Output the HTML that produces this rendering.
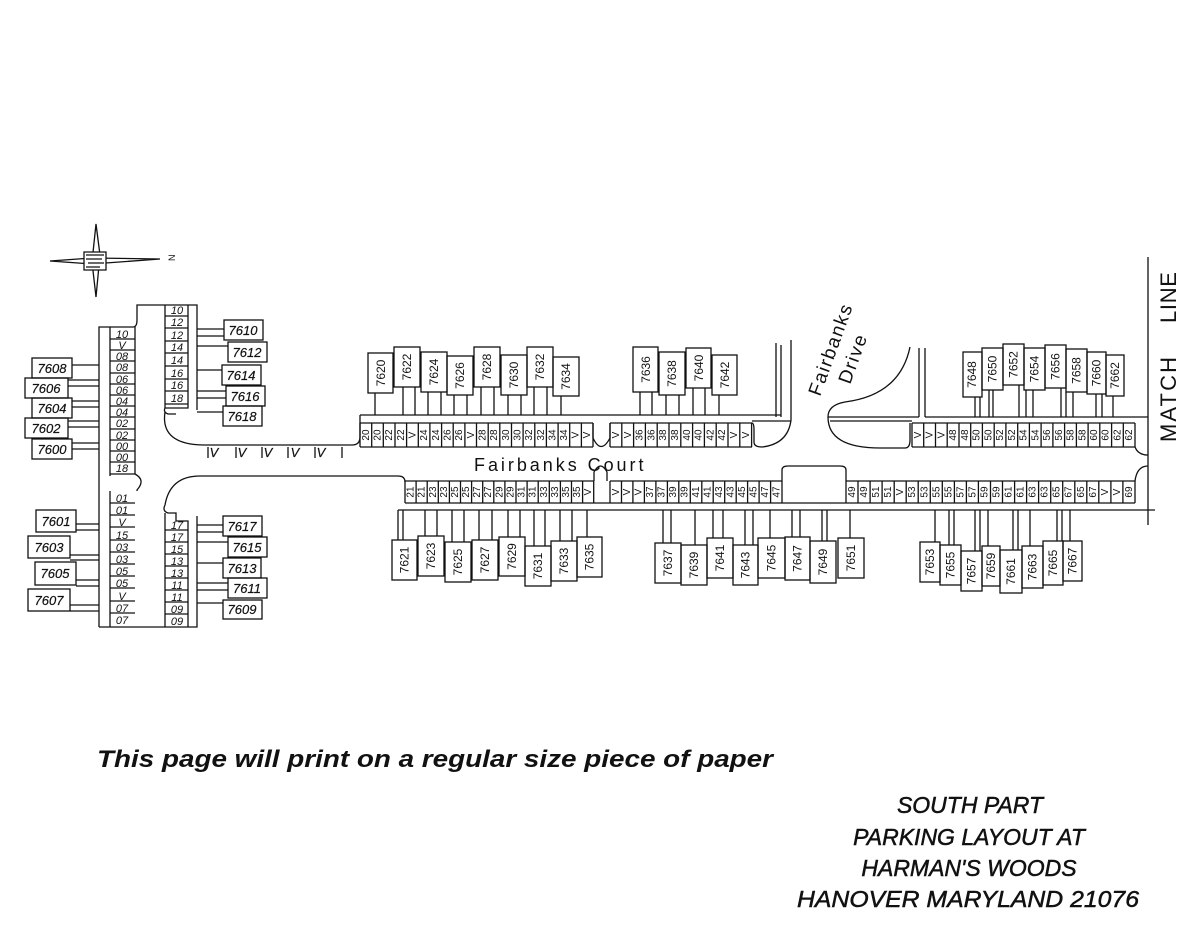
<!DOCTYPE html>
<html><head><meta charset="utf-8"><style>
html,body{margin:0;padding:0;background:#fff;}
svg{display:block;}
text{font-family:"Liberation Sans",sans-serif;fill:#111;}
.s{font-size:10px;text-anchor:middle;}
.b{font-size:12px;text-anchor:middle;}
.l{font-size:11px;font-style:italic;text-anchor:middle;}
.h{font-size:13px;font-style:italic;text-anchor:middle;stroke:#111;stroke-width:0.2;}
</style></head><body>
<svg width="1200" height="927" viewBox="0 0 1200 927" xmlns="http://www.w3.org/2000/svg">
<g fill="none" stroke="#111" stroke-width="1.3">
<!-- compass -->
<path d="M50 261 L92 258 L160 259 L92 264 Z M96 224 L100 255 L96 297 L92 262 Z" fill="#fff"/>
<path d="M84 252 H106 V270 H84 Z" fill="#fff"/>
<path d="M86 255 H104 M86 259 H102 M88 263 H104 M86 267 H100"/>
<!-- left column structure -->
<path d="M99 627 V327 H133 Q137 327 137 320 V305 H197 V410"/>
<path d="M188 305 V408 H165 Q163 412 168 414 H176 M165 412 Q160 445 205 445 H352 Q360 445 360 437 V423"/>
<path d="M110 327 V476 M135 327 V474 Q146 480 137 490 V491 M110 491 V627 M99 627 H197 V516 M188 627 V521 H176 V513 H168 Q162 511 165 505 Q170 476 200 476 H398 Q405 476 405 482"/>
<path d="M165 305 V408 M165 513 V627"/>
<!-- left rows -->
<path d="M110 339 H135 M110 350 H135 M110 361 H135 M110 373 H135 M110 384 H135 M110 395 H135 M110 406 H135 M110 417 H135 M110 429 H135 M110 440 H135 M110 451 H135 M110 462 H135 M110 474 H135"/>
<path d="M110 503 H135 M110 515 H135 M110 527 H135 M110 540 H135 M110 552 H135 M110 564 H135 M110 576 H135 M110 588 H135 M110 601 H135 M110 613 H135"/>
<path d="M165 316 H188 M165 328 H188 M165 341 H188 M165 353 H188 M165 366 H188 M165 379 H188 M165 391 H188 M165 404 H188"/>
<path d="M165 530 H188 M165 542 H188 M165 554 H188 M165 566 H188 M165 578 H188 M165 590 H188 M165 602 H188 M165 614 H188"/>
<!-- left boxes -->
<rect x="32" y="358" width="40" height="20"/><rect x="25" y="378" width="43" height="20"/><rect x="32" y="398" width="40" height="20"/><rect x="25" y="418" width="43" height="20"/><rect x="32" y="439" width="40" height="20"/>
<path d="M72 365 H99 M68 380 H99 M68 386 H99 M72 401 H99 M72 407 H99 M68 421 H99 M68 427 H99 M72 443 H99 M72 449 H99"/>
<rect x="224" y="320" width="39" height="20"/><rect x="228" y="342" width="39" height="20"/><rect x="222" y="365" width="39" height="20"/><rect x="226" y="386" width="39" height="20"/><rect x="223" y="406" width="39" height="20"/>
<path d="M197 329 H224 M197 336 H224 M197 346 H228 M197 370 H222 M197 391 H226 M197 398 H226 M197 412 H223"/>
<rect x="36" y="510" width="40" height="22"/><rect x="28" y="536" width="42" height="22"/><rect x="35" y="562" width="41" height="23"/><rect x="28" y="589" width="42" height="22"/>
<path d="M76 524 H99 M76 530 H99 M70 555 H99 M70 560 H99 M76 580 H99 M76 586 H99 M70 605 H99 M70 611 H99"/>
<rect x="223" y="516" width="39" height="20"/><rect x="228" y="537" width="39" height="20"/><rect x="223" y="558" width="38" height="20"/><rect x="228" y="578" width="39" height="20"/><rect x="223" y="600" width="39" height="19"/>
<path d="M197 525 H223 M197 532 H223 M197 542 H228 M197 563 H223 M197 583 H228 M197 590 H228 M197 603 H223"/>
<!-- V ticks -->
<path d="M208 447 V458 M236 447 V458 M262 447 V458 M288 447 V458 M315 447 V458 M342 447 V458"/>
<!-- upper strips -->
<path d="M360 423 H593 M360 447 H593 M593 423 V438 Q601 455 610 438 V423 M610 423 H752 M610 447 H752"/>
<path d="M360 423 V447 M371.7 423 V447 M383.3 423 V447 M395 423 V447 M406.6 423 V447 M418.3 423 V447 M429.9 423 V447 M441.6 423 V447 M453.2 423 V447 M464.9 423 V447 M476.5 423 V447 M488.2 423 V447 M499.8 423 V447 M511.5 423 V447 M523.1 423 V447 M534.8 423 V447 M546.4 423 V447 M558.1 423 V447 M569.7 423 V447 M581.4 423 V447 M593 423 V447"/>
<path d="M610 423 V447 M621.8 423 V447 M633.6 423 V447 M645.4 423 V447 M657.2 423 V447 M669 423 V447 M680.8 423 V447 M692.6 423 V447 M704.4 423 V447 M716.2 423 V447 M728 423 V447 M739.8 423 V447 M751.6 423 V447"/>
<path d="M752 423 Q754 423 754 430 V442 Q754 447 762 447 Q788 444 791 420 V340 M781 417 V345 M776 417 V343 M360 415 V423 M360 415 H781 M752 421 H791"/>
<!-- drive right -->
<path d="M910 347 Q900 395 845 402 Q828 405 828 417 Q828 448 880 448 H905 Q910 448 910 440 V423 M828 417 H919 M830 421 H912 M919 348 V417 M925 348 V417 M925 417 H1148"/>
<path d="M912 423 H1135 M912 447 H1135 M912 423 V447 M923.7 423 V447 M935.5 423 V447 M947.2 423 V447 M959 423 V447 M970.7 423 V447 M982.4 423 V447 M994.2 423 V447 M1005.9 423 V447 M1017.7 423 V447 M1029.4 423 V447 M1041.1 423 V447 M1052.9 423 V447 M1064.6 423 V447 M1076.4 423 V447 M1088.1 423 V447 M1099.8 423 V447 M1111.6 423 V447 M1123.3 423 V447 M1135 423 V447 M1135 447 Q1138 455 1148 455"/>
<path d="M1148 257 V525"/>
<!-- lower strips -->
<path d="M405 481 H594 M405 503 H1135 M594 481 V472 Q600.5 460 607 472 V481 M610 481 H782 M782 481 V470 Q782 466 788 466 H840 Q846 466 846 470 V481 M846 481 H1135 Q1137 466 1148 466"/>
<path d="M405 481 V503 M416.1 481 V503 M427.2 481 V503 M438.3 481 V503 M449.4 481 V503 M460.5 481 V503 M471.6 481 V503 M482.7 481 V503 M493.8 481 V503 M504.9 481 V503 M516 481 V503 M527.1 481 V503 M538.2 481 V503 M549.3 481 V503 M560.4 481 V503 M571.5 481 V503 M582.6 481 V503 M593.7 481 V503"/>
<path d="M610 481 V503 M621.5 481 V503 M632.9 481 V503 M644.4 481 V503 M655.9 481 V503 M667.4 481 V503 M678.8 481 V503 M690.3 481 V503 M701.8 481 V503 M713.2 481 V503 M724.7 481 V503 M736.2 481 V503 M747.6 481 V503 M759.1 481 V503 M770.6 481 V503 M782 481 V503"/>
<path d="M846 481 V503 M858 481 V503 M870.1 481 V503 M882.1 481 V503 M894.2 481 V503 M906.2 481 V503 M918.2 481 V503 M930.3 481 V503 M942.3 481 V503 M954.4 481 V503 M966.4 481 V503 M978.4 481 V503 M990.5 481 V503 M1002.5 481 V503 M1014.6 481 V503 M1026.6 481 V503 M1038.6 481 V503 M1050.7 481 V503 M1062.7 481 V503 M1074.8 481 V503 M1086.8 481 V503 M1098.8 481 V503 M1110.9 481 V503 M1122.9 481 V503 M1135 481 V503"/>
<path d="M398 510 H1155 M398 510 V540"/>
<!-- upper boxes -->
<rect x="368" y="353" width="25" height="40"/><rect x="394" y="347" width="26" height="40"/><rect x="421" y="352" width="26" height="40"/><rect x="447" y="356" width="26" height="39"/><rect x="474" y="347" width="26" height="40"/><rect x="501" y="355" width="26" height="40"/><rect x="527" y="347" width="26" height="40"/><rect x="553" y="357" width="26" height="39"/>
<path d="M375 393 V415 M403 387 V415 M415 387 V415 M428 392 V415 M441 392 V415 M454 395 V415 M467 395 V415 M481 387 V415 M494 387 V415 M508 395 V415 M521 395 V415 M534 387 V415 M547 387 V415 M561 396 V415"/>
<rect x="633" y="347" width="25" height="45"/><rect x="659" y="352" width="26" height="43"/><rect x="686" y="348" width="25" height="40"/><rect x="712" y="355" width="25" height="40"/>
<path d="M640 392 V415 M652 392 V415 M666 395 V415 M679 395 V415 M693 388 V415 M705 388 V415 M719 395 V415"/>
<rect x="963" y="352" width="19" height="45"/><rect x="982" y="348" width="21" height="42"/><rect x="1003" y="344" width="21" height="41"/><rect x="1024" y="348" width="21" height="42"/><rect x="1045" y="345" width="21" height="43"/><rect x="1066" y="349" width="21" height="43"/><rect x="1087" y="352" width="19" height="42"/><rect x="1106" y="355" width="18" height="41"/>
<path d="M975 397 V417 M980 397 V417 M989 390 V417 M993 390 V417 M1019 385 V417 M1026 390 V417 M1033 390 V417 M1061 388 V417 M1066 392 V417 M1073 392 V417 M1096 394 V417 M1102 394 V417 M1113 396 V417"/>
<!-- lower boxes -->
<rect x="392" y="540" width="25" height="40"/><rect x="418" y="536" width="26" height="40"/><rect x="445" y="542" width="26" height="40"/><rect x="472" y="540" width="26" height="40"/><rect x="499" y="537" width="26" height="39"/><rect x="525" y="546" width="26" height="40"/><rect x="551" y="541" width="26" height="40"/><rect x="577" y="537" width="25" height="40"/>
<path d="M403 510 V540 M425 510 V536 M437 510 V536 M452 510 V542 M464 510 V542 M479 510 V540 M492 510 V540 M508 510 V537 M520 510 V537 M534 510 V546 M545 510 V546 M560 510 V541 M572 510 V541 M587 510 V537"/>
<rect x="655" y="543" width="26" height="40"/><rect x="681" y="545" width="26" height="40"/><rect x="707" y="538" width="26" height="40"/><rect x="733" y="545" width="25" height="40"/><rect x="758" y="538" width="27" height="40"/><rect x="785" y="537" width="25" height="43"/><rect x="810" y="541" width="26" height="42"/><rect x="838" y="538" width="26" height="40"/>
<path d="M663 510 V543 M671 510 V543 M695 510 V545 M713 510 V538 M723 510 V538 M745 510 V545 M753 510 V545 M770 510 V538 M792 510 V537 M800 510 V537 M822 510 V541 M827 510 V541 M850 510 V538"/>
<rect x="920" y="542" width="20" height="40"/><rect x="940" y="545" width="21" height="40"/><rect x="961" y="551" width="21" height="40"/><rect x="982" y="546" width="18" height="40"/><rect x="1000" y="550" width="22" height="43"/><rect x="1022" y="546" width="21" height="42"/><rect x="1043" y="541" width="20" height="44"/><rect x="1063" y="541" width="19" height="40"/>
<path d="M935 510 V542 M949 510 V545 M954 510 V545 M975 510 V551 M980 510 V551 M988 510 V546 M1013 510 V550 M1018 510 V550 M1030 510 V546 M1057 510 V541 M1062 510 V541 M1070 510 V541"/>
</g>
<text x="172" y="264" font-size="9" transform="rotate(-90 172 261)">N</text>
<!-- left labels -->
<g class="l">
<text x="122" y="338">10</text><text x="122" y="349">V</text><text x="122" y="360">08</text><text x="122" y="371">08</text><text x="122" y="383">06</text><text x="122" y="394">06</text><text x="122" y="405">04</text><text x="122" y="416">04</text><text x="122" y="427">02</text><text x="122" y="439">02</text><text x="122" y="450">00</text><text x="122" y="461">00</text><text x="122" y="472">18</text>
<text x="122" y="502">01</text><text x="122" y="514">01</text><text x="122" y="526">V</text><text x="122" y="539">15</text><text x="122" y="551">03</text><text x="122" y="563">03</text><text x="122" y="575">05</text><text x="122" y="587">05</text><text x="122" y="600">V</text><text x="122" y="612">07</text><text x="122" y="624">07</text>
<text x="177" y="314">10</text><text x="177" y="326">12</text><text x="177" y="339">12</text><text x="177" y="351">14</text><text x="177" y="364">14</text><text x="177" y="377">16</text><text x="177" y="389">16</text><text x="177" y="402">18</text>
<text x="177" y="529">17</text><text x="177" y="541">17</text><text x="177" y="553">15</text><text x="177" y="565">13</text><text x="177" y="577">13</text><text x="177" y="589">11</text><text x="177" y="601">11</text><text x="177" y="613">09</text><text x="177" y="625">09</text>
</g>
<g class="h">
<text x="52" y="373">7608</text><text x="46" y="393">7606</text><text x="52" y="413">7604</text><text x="46" y="433">7602</text><text x="52" y="454">7600</text>
<text x="243" y="335">7610</text><text x="247" y="357">7612</text><text x="241" y="380">7614</text><text x="245" y="401">7616</text><text x="242" y="421">7618</text>
<text x="56" y="526">7601</text><text x="49" y="552">7603</text><text x="55" y="578">7605</text><text x="49" y="605">7607</text>
<text x="242" y="531">7617</text><text x="247" y="552">7615</text><text x="242" y="573">7613</text><text x="247" y="593">7611</text><text x="242" y="614">7609</text>
<text x="214" y="457">V</text><text x="242" y="457">V</text><text x="268" y="457">V</text><text x="295" y="457">V</text><text x="321" y="457">V</text>
</g>
<!-- stall labels upper -->
<g class="s">
<text x="369" y="435" transform="rotate(-90 369 435)">20</text><text x="380.5" y="435" transform="rotate(-90 380.5 435)">20</text><text x="392" y="435" transform="rotate(-90 392 435)">22</text><text x="404" y="435" transform="rotate(-90 404 435)">22</text><text x="415.5" y="435" transform="rotate(-90 415.5 435)">V</text><text x="427" y="435" transform="rotate(-90 427 435)">24</text><text x="439" y="435" transform="rotate(-90 439 435)">24</text><text x="450.5" y="435" transform="rotate(-90 450.5 435)">26</text><text x="462" y="435" transform="rotate(-90 462 435)">26</text><text x="474" y="435" transform="rotate(-90 474 435)">V</text><text x="485.5" y="435" transform="rotate(-90 485.5 435)">28</text><text x="497" y="435" transform="rotate(-90 497 435)">28</text><text x="509" y="435" transform="rotate(-90 509 435)">30</text><text x="520.5" y="435" transform="rotate(-90 520.5 435)">30</text><text x="532" y="435" transform="rotate(-90 532 435)">32</text><text x="544" y="435" transform="rotate(-90 544 435)">32</text><text x="555.5" y="435" transform="rotate(-90 555.5 435)">34</text><text x="567" y="435" transform="rotate(-90 567 435)">34</text><text x="578.5" y="435" transform="rotate(-90 578.5 435)">V</text><text x="590" y="435" transform="rotate(-90 590 435)">V</text>
<text x="619" y="435" transform="rotate(-90 619 435)">V</text><text x="631" y="435" transform="rotate(-90 631 435)">V</text><text x="642.5" y="435" transform="rotate(-90 642.5 435)">36</text><text x="654.5" y="435" transform="rotate(-90 654.5 435)">36</text><text x="666" y="435" transform="rotate(-90 666 435)">38</text><text x="678" y="435" transform="rotate(-90 678 435)">38</text><text x="690" y="435" transform="rotate(-90 690 435)">40</text><text x="701.5" y="435" transform="rotate(-90 701.5 435)">40</text><text x="713.5" y="435" transform="rotate(-90 713.5 435)">42</text><text x="725" y="435" transform="rotate(-90 725 435)">42</text><text x="737" y="435" transform="rotate(-90 737 435)">V</text><text x="749" y="435" transform="rotate(-90 749 435)">V</text>
<text x="921" y="435" transform="rotate(-90 921 435)">V</text><text x="932.5" y="435" transform="rotate(-90 932.5 435)">V</text><text x="944.5" y="435" transform="rotate(-90 944.5 435)">V</text><text x="956" y="435" transform="rotate(-90 956 435)">48</text><text x="968" y="435" transform="rotate(-90 968 435)">48</text><text x="979.5" y="435" transform="rotate(-90 979.5 435)">50</text><text x="991.5" y="435" transform="rotate(-90 991.5 435)">50</text><text x="1003" y="435" transform="rotate(-90 1003 435)">52</text><text x="1015" y="435" transform="rotate(-90 1015 435)">52</text><text x="1026.5" y="435" transform="rotate(-90 1026.5 435)">54</text><text x="1038.5" y="435" transform="rotate(-90 1038.5 435)">54</text><text x="1050" y="435" transform="rotate(-90 1050 435)">56</text><text x="1062" y="435" transform="rotate(-90 1062 435)">56</text><text x="1073.5" y="435" transform="rotate(-90 1073.5 435)">58</text><text x="1085.5" y="435" transform="rotate(-90 1085.5 435)">58</text><text x="1097" y="435" transform="rotate(-90 1097 435)">60</text><text x="1108.5" y="435" transform="rotate(-90 1108.5 435)">60</text><text x="1120.5" y="435" transform="rotate(-90 1120.5 435)">62</text><text x="1132" y="435" transform="rotate(-90 1132 435)">62</text>
</g>
<!-- stall labels lower -->
<g class="s">
<text x="413.5" y="492" transform="rotate(-90 413.5 492)">21</text><text x="424.5" y="492" transform="rotate(-90 424.5 492)">21</text><text x="436" y="492" transform="rotate(-90 436 492)">23</text><text x="447" y="492" transform="rotate(-90 447 492)">23</text><text x="458" y="492" transform="rotate(-90 458 492)">25</text><text x="469" y="492" transform="rotate(-90 469 492)">25</text><text x="480" y="492" transform="rotate(-90 480 492)">27</text><text x="491" y="492" transform="rotate(-90 491 492)">27</text><text x="502.5" y="492" transform="rotate(-90 502.5 492)">29</text><text x="513.5" y="492" transform="rotate(-90 513.5 492)">29</text><text x="524.5" y="492" transform="rotate(-90 524.5 492)">31</text><text x="535.5" y="492" transform="rotate(-90 535.5 492)">31</text><text x="547" y="492" transform="rotate(-90 547 492)">33</text><text x="558" y="492" transform="rotate(-90 558 492)">33</text><text x="569" y="492" transform="rotate(-90 569 492)">35</text><text x="580" y="492" transform="rotate(-90 580 492)">35</text><text x="591" y="492" transform="rotate(-90 591 492)">V</text>
<text x="619" y="492" transform="rotate(-90 619 492)">V</text><text x="630" y="492" transform="rotate(-90 630 492)">V</text><text x="641.5" y="492" transform="rotate(-90 641.5 492)">V</text><text x="653" y="492" transform="rotate(-90 653 492)">37</text><text x="664.5" y="492" transform="rotate(-90 664.5 492)">37</text><text x="676" y="492" transform="rotate(-90 676 492)">39</text><text x="687.5" y="492" transform="rotate(-90 687.5 492)">39</text><text x="699" y="492" transform="rotate(-90 699 492)">41</text><text x="710.5" y="492" transform="rotate(-90 710.5 492)">41</text><text x="722" y="492" transform="rotate(-90 722 492)">43</text><text x="733.5" y="492" transform="rotate(-90 733.5 492)">43</text><text x="745" y="492" transform="rotate(-90 745 492)">45</text><text x="756.5" y="492" transform="rotate(-90 756.5 492)">45</text><text x="768" y="492" transform="rotate(-90 768 492)">47</text><text x="779.5" y="492" transform="rotate(-90 779.5 492)">47</text>
<text x="855" y="492" transform="rotate(-90 855 492)">49</text><text x="867" y="492" transform="rotate(-90 867 492)">49</text><text x="879" y="492" transform="rotate(-90 879 492)">51</text><text x="891" y="492" transform="rotate(-90 891 492)">51</text><text x="903" y="492" transform="rotate(-90 903 492)">V</text><text x="915" y="492" transform="rotate(-90 915 492)">53</text><text x="927.5" y="492" transform="rotate(-90 927.5 492)">53</text><text x="939.5" y="492" transform="rotate(-90 939.5 492)">55</text><text x="951.5" y="492" transform="rotate(-90 951.5 492)">55</text><text x="963.5" y="492" transform="rotate(-90 963.5 492)">57</text><text x="975.5" y="492" transform="rotate(-90 975.5 492)">57</text><text x="987.5" y="492" transform="rotate(-90 987.5 492)">59</text><text x="999.5" y="492" transform="rotate(-90 999.5 492)">59</text><text x="1011.5" y="492" transform="rotate(-90 1011.5 492)">61</text><text x="1023.5" y="492" transform="rotate(-90 1023.5 492)">61</text><text x="1035.5" y="492" transform="rotate(-90 1035.5 492)">63</text><text x="1047.5" y="492" transform="rotate(-90 1047.5 492)">63</text><text x="1059.5" y="492" transform="rotate(-90 1059.5 492)">65</text><text x="1071.5" y="492" transform="rotate(-90 1071.5 492)">67</text><text x="1084" y="492" transform="rotate(-90 1084 492)">65</text><text x="1096" y="492" transform="rotate(-90 1096 492)">67</text><text x="1108" y="492" transform="rotate(-90 1108 492)">V</text><text x="1120" y="492" transform="rotate(-90 1120 492)">V</text><text x="1132" y="492" transform="rotate(-90 1132 492)">69</text>
</g>
<!-- building labels -->
<g class="b">
<text x="385" y="373" transform="rotate(-90 385 373)">7620</text><text x="411" y="367" transform="rotate(-90 411 367)">7622</text><text x="438" y="372" transform="rotate(-90 438 372)">7624</text><text x="464" y="375.5" transform="rotate(-90 464 375.5)">7626</text><text x="491" y="367" transform="rotate(-90 491 367)">7628</text><text x="518" y="375" transform="rotate(-90 518 375)">7630</text><text x="544" y="367" transform="rotate(-90 544 367)">7632</text><text x="570" y="376.5" transform="rotate(-90 570 376.5)">7634</text>
<text x="650" y="369.5" transform="rotate(-90 650 369.5)">7636</text><text x="676" y="373.5" transform="rotate(-90 676 373.5)">7638</text><text x="703" y="368" transform="rotate(-90 703 368)">7640</text><text x="729" y="375" transform="rotate(-90 729 375)">7642</text>
<text x="976" y="374.5" transform="rotate(-90 976 374.5)">7648</text><text x="996.5" y="369" transform="rotate(-90 996.5 369)">7650</text><text x="1017.5" y="364.5" transform="rotate(-90 1017.5 364.5)">7652</text><text x="1038.5" y="369" transform="rotate(-90 1038.5 369)">7654</text><text x="1059.5" y="366.5" transform="rotate(-90 1059.5 366.5)">7656</text><text x="1080.5" y="370.5" transform="rotate(-90 1080.5 370.5)">7658</text><text x="1100.5" y="373" transform="rotate(-90 1100.5 373)">7660</text><text x="1119" y="375.5" transform="rotate(-90 1119 375.5)">7662</text>
<text x="408.5" y="560" transform="rotate(-90 408.5 560)">7621</text><text x="435" y="556" transform="rotate(-90 435 556)">7623</text><text x="462" y="562" transform="rotate(-90 462 562)">7625</text><text x="489" y="560" transform="rotate(-90 489 560)">7627</text><text x="516" y="556.5" transform="rotate(-90 516 556.5)">7629</text><text x="542" y="566" transform="rotate(-90 542 566)">7631</text><text x="568" y="561" transform="rotate(-90 568 561)">7633</text><text x="593.5" y="557" transform="rotate(-90 593.5 557)">7635</text>
<text x="672" y="563" transform="rotate(-90 672 563)">7637</text><text x="698" y="565" transform="rotate(-90 698 565)">7639</text><text x="724" y="558" transform="rotate(-90 724 558)">7641</text><text x="749.5" y="565" transform="rotate(-90 749.5 565)">7643</text><text x="775.5" y="558" transform="rotate(-90 775.5 558)">7645</text><text x="801.5" y="558.5" transform="rotate(-90 801.5 558.5)">7647</text><text x="827" y="562" transform="rotate(-90 827 562)">7649</text><text x="855" y="558" transform="rotate(-90 855 558)">7651</text>
<text x="934" y="562" transform="rotate(-90 934 562)">7653</text><text x="954.5" y="565" transform="rotate(-90 954.5 565)">7655</text><text x="975.5" y="571" transform="rotate(-90 975.5 571)">7657</text><text x="995" y="566" transform="rotate(-90 995 566)">7659</text><text x="1015" y="571.5" transform="rotate(-90 1015 571.5)">7661</text><text x="1036.5" y="567" transform="rotate(-90 1036.5 567)">7663</text><text x="1057" y="563" transform="rotate(-90 1057 563)">7665</text><text x="1076.5" y="561" transform="rotate(-90 1076.5 561)">7667</text>
</g>
<text x="474" y="471" font-size="18" letter-spacing="1.5" textLength="171">Fairbanks Court</text>
<text x="820" y="397" font-size="19" letter-spacing="1.5" transform="rotate(-70 820 397)">Fairbanks</text>
<text x="850" y="385" font-size="19" letter-spacing="1.5" transform="rotate(-70 850 385)">Drive</text>
<text x="1176" y="442" font-size="22" letter-spacing="2" textLength="87" transform="rotate(-90 1176 442)">MATCH</text>
<text x="1176" y="323" font-size="22" letter-spacing="2" textLength="53" transform="rotate(-90 1176 323)">LINE</text>
<text x="97" y="767" font-size="24" font-weight="bold" font-style="italic" textLength="676" lengthAdjust="spacingAndGlyphs">This page will print on a regular size piece of paper</text>
<g font-size="23" font-style="italic" text-anchor="middle" stroke="#111" stroke-width="0.5">
<text x="970" y="813">SOUTH PART</text>
<text x="969" y="845">PARKING LAYOUT AT</text>
<text x="969" y="876">HARMAN'S WOODS</text>
<text x="968" y="907" textLength="342" lengthAdjust="spacingAndGlyphs">HANOVER MARYLAND 21076</text>
</g>
</svg>
</body></html>
